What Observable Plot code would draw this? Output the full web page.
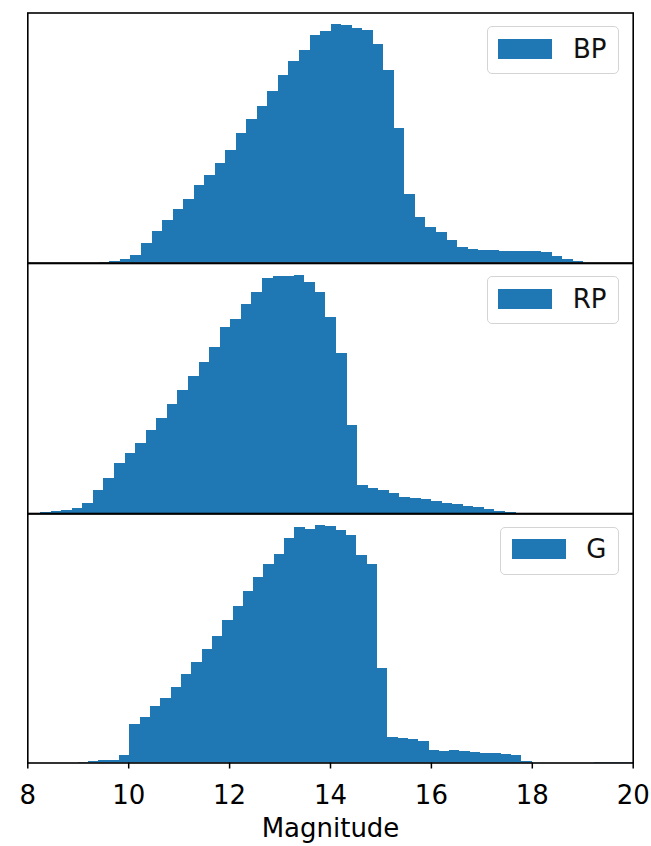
<!DOCTYPE html>
<html>
<head>
<meta charset="utf-8">
<script src="https://cdn.jsdelivr.net/npm/d3@7"></script>
<script src="https://cdn.jsdelivr.net/npm/@observablehq/plot@0.6"></script>
<style>
  html, body { margin: 0; padding: 0; background: #fff; }
  #chart { position: relative; width: 651px; height: 846px; font-family: "DejaVu Sans", sans-serif; overflow: hidden; }
  #chart svg { position: absolute; left: 0; overflow: visible; }
  .legend { position: absolute; box-sizing: border-box; height: 48px; border: 1.3px solid #d4d4d4; border-radius: 5px;
            background: rgba(255,255,255,0.8); display: flex; align-items: center; padding: 0 11.5px 3px 10.5px; }
  .legend .sw { width: 54px; height: 20px; background: #1f77b4; margin-right: 20.5px; flex: none; }
  .legend .lb { font-size: 26px; line-height: 1; color: #111; font-family: "DejaVu Sans", sans-serif; }
</style>
</head>
<body>
<div id="chart"></div>
<script>
// ---- data ----
const bands = ["BP", "RP", "G"];

// BP histogram: bin start, bin width, counts (relative units)
const bpStart = 9.419;
const bpWidth = 0.2088;
const bpCounts = [0.7, 1.3, 3.3, 7.3, 19, 31, 42.7, 53.3, 63.3, 77.3, 87.3, 99.3, 112.7, 129, 143.3, 156.7,
  171.7, 186.7, 200.7, 211.7, 226.7, 231, 237.7, 237, 234.3, 231.7, 218.3, 192.3, 134.3, 68.3, 45.7, 35,
  30, 22.3, 15, 13.3, 12.7, 12.3, 11.7, 11.3, 11, 11, 10.7, 6.7, 3.3, 1.7];

// RP histogram
const rpStart = 8.252;
const rpWidth = 0.2095;
const rpCounts = [1.3, 2.3, 3.3, 5, 10.7, 23.3, 35.7, 50.7, 60.7, 70, 83.3, 95.7, 109, 123, 137.3, 151.3,
  165.7, 186.3, 194, 209, 220.7, 234.7, 236.7, 237.3, 238, 230.7, 220.7, 196.3, 160, 88.3, 28, 25.7,
  23, 20, 16.7, 15, 14, 12.3, 10.7, 9, 7.3, 6.3, 4.7, 2.3, 1];

// G histogram
const gStart = 9.0;
const gWidth = 0.2045;
const gCounts = [0.7, 1.3, 2, 2.7, 7.7, 38.3, 45, 55.7, 64.3, 75, 87.7, 100, 112.7, 125.7, 141.7, 155,
  170.7, 184.3, 196.7, 206.7, 222.7, 234, 231.7, 236, 235, 230.7, 226, 205.7, 196.7, 94.3, 25, 24.3,
  23.3, 21, 12.3, 11, 12.3, 11.7, 10, 9.3, 9, 8.3, 7.3, 1.7, 0, 0, 0, 0, 0, 0, 0.7, 0.7, 0.7, 0.7];

const xDomain = [8, 20];
const xTicks = [8, 10, 12, 14, 16, 18, 20];
const xLabel = "Magnitude";

// ---- layout ----
const W = 651;
const frameLeft = 27.3, frameRight = 632.7;
const panelTops = [12.5, 262.5, 513];
const panelBottoms = [262.5, 513, 762.5];
const blue = "#1f77b4";

const series = [
  {name: bands[0], start: bpStart, width: bpWidth, counts: bpCounts},
  {name: bands[1], start: rpStart, width: rpWidth, counts: rpCounts},
  {name: bands[2], start: gStart, width: gWidth, counts: gCounts}
];

const chart = document.getElementById("chart");

series.forEach((s, p) => {
  const rows = s.counts.map((c, i) => ({x1: s.start + i * s.width, x2: s.start + (i + 1) * s.width, count: c}));
  const last = p === series.length - 1;
  const svgTop = p === 0 ? 0 : panelTops[p];
  const svgBottom = last ? 846 : panelBottoms[p];
  const height = svgBottom - svgTop;
  const plot = Plot.plot({
    width: W,
    height: height,
    marginLeft: frameLeft,
    marginRight: W - frameRight,
    marginTop: panelTops[p] - svgTop,
    marginBottom: svgBottom - panelBottoms[p],
    style: {fontFamily: "DejaVu Sans, sans-serif", background: "transparent", overflow: "visible", color: "#000"},
    x: {domain: xDomain, axis: null, label: null},
    y: {domain: [0, d3.max(s.counts) * 1.05], axis: null},
    marks: [
      Plot.rectY(rows, {x1: "x1", x2: "x2", y: "count", fill: blue, inset: 0, clip: true, shapeRendering: "crispEdges"}),
      Plot.frame({stroke: "#000", strokeWidth: 1.6}),
      last ? Plot.axisX({ticks: xTicks, tickFormat: d => String(d), tickSize: 6, tickPadding: 16.5,
                         fontSize: 26, strokeWidth: 1.5, label: null, anchor: "bottom"}) : null,
      last ? Plot.text([xLabel], {frameAnchor: "bottom", dy: 74, fontSize: 26, fill: "#000"}) : null
    ]
  });
  plot.style.top = svgTop + "px";
  chart.appendChild(plot);

  const lg = document.createElement("div");
  lg.className = "legend";
  lg.style.right = (W - 619) + "px";
  lg.style.top = (panelTops[p] + 13.8) + "px";
  const sw = document.createElement("div");
  sw.className = "sw";
  const lb = document.createElement("span");
  lb.className = "lb";
  lb.textContent = s.name;
  lg.appendChild(sw);
  lg.appendChild(lb);
  chart.appendChild(lg);
});
</script>
</body>
</html>
